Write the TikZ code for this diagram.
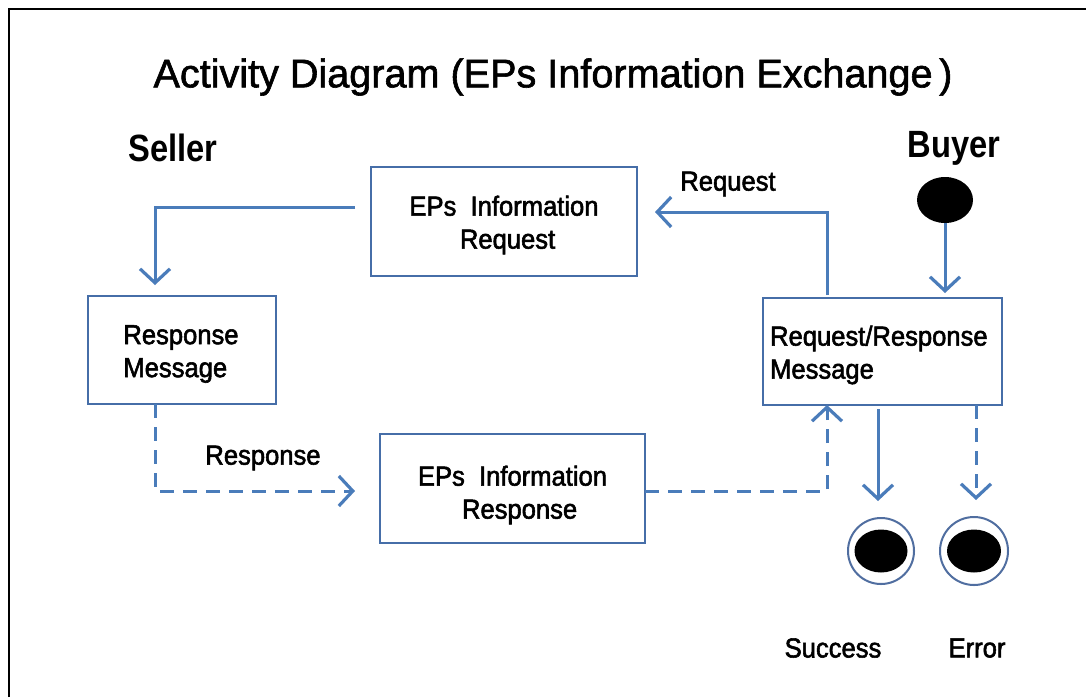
\documentclass[tikz,border=0pt]{standalone}
\usepackage{fontspec}
\setmainfont{Liberation Sans}[FakeStretch=0.93,FakeBold=2]
\newfontfamily\hdfont{Liberation Sans}[FakeStretch=0.86]
\newfontfamily\ttlfont{Liberation Sans}[FakeStretch=0.99,FakeBold=1.5]
\usetikzlibrary{arrows.meta,shapes.geometric,calc}
\definecolor{linecol}{RGB}{74,124,186}
\definecolor{boxcol}{RGB}{70,110,168}
\definecolor{ringcol}{RGB}{80,110,160}
\begin{document}
\begin{tikzpicture}[x=1pt,y=-1pt,
  every node/.style={inner sep=0pt,outer sep=0pt},
  actbox/.style={draw=boxcol,line width=2.2pt,fill=white},
  boxtxt/.style={font=\fontsize{27.5}{33}\selectfont},
  conn/.style={draw=linecol,line width=3pt,-{Straight Barb[length=14pt,width=30pt,line width=3.2pt]}},
  dconn/.style={conn,dash pattern=on 14pt off 9pt},
  lbl/.style={font=\fontsize{27.5}{33}\selectfont},
  hd/.style={font=\hdfont\bfseries\fontsize{38}{40}\selectfont}]
\useasboundingbox (0,0) rectangle (1086,697);
\fill[white] (0,0) rectangle (1086,697);
% frame
\draw[line width=2pt,black] (9,697) -- (9,9) -- (1086,9);
% title
\node (title) at (553,77) {\ttlfont\fontsize{40}{44}\selectfont Activity Diagram (EPs Information Exchange\,)};
\node[hd] (seller) at (173,148) {Seller};
\node[hd] (buyer) at (954,148) {Buyer};
% boxes
\node[actbox,minimum width=266pt,minimum height=109pt] (req) at (504,221.5) {};
\node[boxtxt,align=center] (reqtxt) at (504,225) {EPs\ \ Information\\\ Request};
\node[actbox,minimum width=188pt,minimum height=108pt] (rmsg) at (182,350) {};
\node[boxtxt,align=left] (rmsgtxt) at (181,354) {Response\\Message};
\node[actbox,minimum width=239pt,minimum height=107pt] (rrmsg) at (882.5,351.5) {};
\node[boxtxt,align=left] (rrmsgtxt) at (883.5,355) {Request/Response\\Message\hspace*{123pt}};
\node[actbox,minimum width=265pt,minimum height=109pt] (resp) at (512.5,488.5) {};
\node[boxtxt,align=center] (resptxt) at (512.5,495) {EPs\ \ Information\\\ \ Response};
% start and end
\node[ellipse,fill=black,minimum width=56pt,minimum height=46pt] (start) at (945,200) {};
\node[circle,draw=ringcol,line width=2pt,minimum size=66pt] (endS) at (881,551) {};
\node[ellipse,fill=black,minimum width=53pt,minimum height=43pt] (endSin) at (881,551) {};
\node[circle,draw=ringcol,line width=2pt,minimum size=68pt] (endE) at (974,551) {};
\node[ellipse,fill=black,minimum width=54pt,minimum height=43pt] (endEin) at (974,551) {};
% labels
\node[lbl] (lreq) at (728,184) {Request};
\node[lbl] (lresp) at (263,458) {Response};
\node[lbl] (lsucc) at (833,648) {Success};
\node[lbl] (lerr) at (977,648) {Error};
% connectors
\draw[conn] ([xshift=-16pt,yshift=14.5pt]req.west) -| ([xshift=-27pt,yshift=11pt]rmsg.north);
\draw[conn] ([xshift=-55.5pt,yshift=3pt]rrmsg.north) |- ([xshift=18pt,yshift=9.5pt]req.east);
\draw[conn,shorten >=5pt] (start.south) -- (start.south |- rrmsg.north);
\draw[dconn] ([xshift=-27pt]rmsg.south) |- ([xshift=-25pt,yshift=-2.5pt]resp.west);
\draw[dconn] ([yshift=-2.5pt]resp.east) -| ([xshift=-55.5pt]rrmsg.south);
\draw[conn,shorten >=17pt] ([xshift=-4.5pt,yshift=-4pt]rrmsg.south) -- ([xshift=-4.5pt]rrmsg.south |- endS.north);
\draw[dconn,shorten >=17pt] ([xshift=93.5pt]rrmsg.south) -- ([xshift=93.5pt]rrmsg.south |- endE.north);
\end{tikzpicture}
\end{document}
